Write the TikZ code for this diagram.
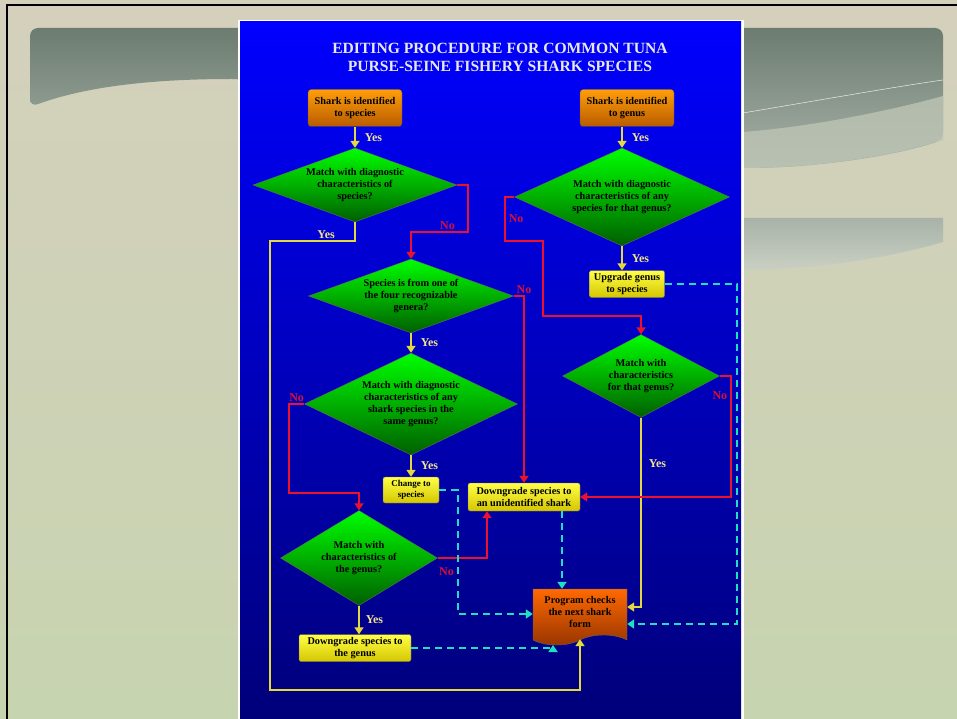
\documentclass[tikz,border=0pt]{standalone}
\usepackage{fontspec}
\setmainfont{Liberation Serif}
\usetikzlibrary{arrows.meta,positioning,shapes.geometric,shapes.symbols}

\definecolor{slideTop}{RGB}{212,208,188}
\definecolor{slideMid}{RGB}{235,229,207}
\definecolor{slideBot}{RGB}{199,212,176}
\definecolor{bandTop}{RGB}{108,124,112}
\definecolor{bandBot}{RGB}{168,178,168}
\definecolor{lensCol}{RGB}{188,196,180}
\definecolor{panelTop}{RGB}{0,0,255}
\definecolor{panelBot}{RGB}{0,0,122}
\definecolor{orangeTop}{RGB}{255,158,10}
\definecolor{orangeBot}{RGB}{185,92,0}
\definecolor{greenTop}{RGB}{0,255,0}
\definecolor{greenBot}{RGB}{0,95,0}
\definecolor{yellowTop}{RGB}{255,255,70}
\definecolor{yellowBot}{RGB}{212,198,0}
\definecolor{progTop}{RGB}{255,105,0}
\definecolor{progBot}{RGB}{150,52,0}
\definecolor{yesLine}{RGB}{228,216,64}
\definecolor{noLine}{RGB}{236,18,46}
\definecolor{dashLine}{RGB}{32,224,192}
\definecolor{yesText}{RGB}{240,228,140}
\definecolor{noText}{RGB}{214,16,60}
\definecolor{titleText}{RGB}{232,232,232}

\begin{document}
\begin{tikzpicture}[x=1pt,y=-1pt,
  txt/.style={font=\bfseries\fontsize{10.3}{12}\selectfont,text=black,align=center},
  startbox/.style={txt,rectangle,rounded corners=3pt,draw=black!70,top color=orangeTop,bottom color=orangeBot,minimum width=94pt,minimum height=37pt},
  decision/.style={txt,diamond,draw=black!60,top color=greenTop,bottom color=greenBot,inner sep=0pt},
  actbox/.style={txt,rectangle,rounded corners=2pt,draw=black!60,top color=yellowTop,bottom color=yellowBot,inner sep=1pt},
  progbox/.style={txt,tape,tape bend top=none,tape bend bottom=in and out,tape bend height=10pt,draw=black!60,top color=progTop,bottom color=progBot,minimum width=94pt,minimum height=56pt,inner sep=2pt},
  yesarrow/.style={draw=yesLine,line width=1.6pt,-{Triangle[length=7pt,width=9pt]}},
  noarrow/.style={draw=noLine,line width=1.6pt,-{Triangle[length=7pt,width=9pt]}},
  dasharrow/.style={draw=dashLine,line width=2pt,dash pattern=on 7pt off 5pt,-{Triangle[length=7pt,width=9pt]}},
  yeslbl/.style={font=\bfseries\fontsize{12}{12}\selectfont,text=yesText,inner sep=1pt},
  nolbl/.style={font=\bfseries\fontsize{12}{12}\selectfont,text=noText,inner sep=1pt}]
\useasboundingbox (0,0) rectangle (957,719);
% slide background
\shade[top color=slideTop,middle color=slideMid,bottom color=slideBot] (0,0) rectangle (957,719);
\shade[top color=bandTop,bottom color=bandBot,rounded corners=8pt] (30,107) -- (30,28) -- (943,28) -- (943,140) .. controls (880,160) and (800,168) .. (743,168) -- (240,79) .. controls (160,79) and (90,85) .. (30,107) -- cycle;
\fill[lensCol,opacity=.8] (743,132) .. controls (820,126) and (900,108) .. (943,96) -- (943,140) .. controls (880,160) and (800,168) .. (743,168) -- cycle;
\draw[white!85!gray,line width=.5pt] (743,113) .. controls (820,100) and (900,86) .. (943,80);
\shade[top color=bandBot,bottom color=lensCol!80!white] (743,218) -- (943,218) -- (943,242) .. controls (890,258) and (810,270) .. (743,270) -- cycle;
\draw[line width=2.5pt] (7,719) -- (7,5) -- (957,5);
% panel
\fill[white] (238,20) rectangle (743.5,719);
\shade[top color=panelTop,bottom color=panelBot] (240,22) rectangle (741,719);
\node[font=\bfseries\fontsize{15.6}{18}\selectfont,text=titleText,align=center] (title) at (500,57) {EDITING PROCEDURE FOR COMMON TUNA\\PURSE-SEINE FISHERY SHARK SPECIES};
% boxes
\node[startbox] (shspec) at (355,108) {Shark is identified\\to species};
\node[startbox] (shgen) at (627,108) {Shark is identified\\to genus};
\node[decision,minimum width=204pt,minimum height=74pt,aspect=2.76] (d1) at (355,185) {Match with diagnostic\\characteristics of\\species?};
\node[decision,minimum width=215pt,minimum height=98pt,aspect=2.2] (d2) at (622,197) {Match with diagnostic\\characteristics of any\\species for that genus?};
\node[actbox,minimum width=75pt,minimum height=27pt] (upg) at (627,284) {Upgrade genus\\to species};
\node[decision,minimum width=205pt,minimum height=74pt,aspect=2.77] (d3) at (411,296) {Species is from one of\\the four recognizable\\genera?};
\node[decision,minimum width=157pt,minimum height=83pt,aspect=1.9] (d6) at (641,376) {Match with\\characteristics\\for that genus?};
\node[decision,minimum width=213pt,minimum height=102pt,aspect=2.1] (d4) at (411,404) {Match with diagnostic\\characteristics of any\\shark species in the\\same genus?};
\node[actbox,minimum width=56pt,minimum height=26pt,font=\bfseries\fontsize{9}{10.5}\selectfont] (chg) at (411,490) {Change to\\species};
\node[actbox,minimum width=112pt,minimum height=28pt] (dgu) at (524,497) {Downgrade species to\\an unidentified shark};
\node[decision,minimum width=157pt,minimum height=95pt,aspect=1.65] (d5) at (359,558) {Match with\\characteristics of\\the genus?};
\node[progbox] (prog) at (580,612) {Program checks\\the next shark\\form};
\node[actbox,minimum width=112pt,minimum height=27pt] (dgg) at (355,648) {Downgrade species to\\the genus};
% yes
\draw[yesarrow] (shspec) -- node[yeslbl,right=8pt] {Yes} (d1);
\draw[yesarrow] (shgen.south -| d2.north) -- node[yeslbl,right=8pt] {Yes} (d2.north);
\draw[yesarrow] (d2.south) -- node[yeslbl,right=8pt] {Yes} (d2.south |- upg.north);
\draw[yesarrow] (d1.south) |- (270,241) node[yeslbl,pos=.67,above=1pt] {Yes} -- (270,690) -| ([yshift=-4pt]prog.south);
\draw[yesarrow] (d3) -- node[yeslbl,right=8pt] {Yes} (d4);
\draw[yesarrow] (d4) -- node[yeslbl,right=8pt] {Yes} (chg);
\draw[yesarrow] (d5.south) -- node[yeslbl,right=5pt] {Yes} (d5.south |- dgg.north);
\draw[yesarrow] (d6.south) |- ([yshift=5pt]prog.east) node[yeslbl,pos=.12,right=6pt] {Yes};
% no
\draw[noarrow] (d1.east) -| (468,232) -| (d3.north) node[nolbl,pos=.18,above=1pt] {No};
\draw[noarrow] (d3.east) -| (dgu.north) node[nolbl,pos=.5,above=1pt] {No};
\draw[noarrow] (d2.west) -| (505,241) node[nolbl,pos=.75,right=2pt] {No} -| (543,316) -| (d6.north);
\draw[noarrow] (d4.west) -| (289,493) node[nolbl,pos=.25,above=1pt] {No} -| (d5.north);
\draw[noarrow] (d5.east) -| ([xshift=-37pt]dgu.south) node[nolbl,pos=.09,below=8pt] {No};
\draw[noarrow] (d6.east) -| (731,497) node[nolbl,pos=.58,left=2pt] {No} -- (dgu.east);
% dashed
\draw[dasharrow] (chg.east) -| (458,614) -- (prog.west |- 458,614);
\draw[dasharrow] (dgu.south -| 562,0) -- (prog.north -| 562,0);
\draw[dasharrow] (dgg.east) -| (553,645);
\draw[dasharrow] (upg.east) -| (737,624) -- ([yshift=-12pt]prog.east);
\end{tikzpicture}
\end{document}
